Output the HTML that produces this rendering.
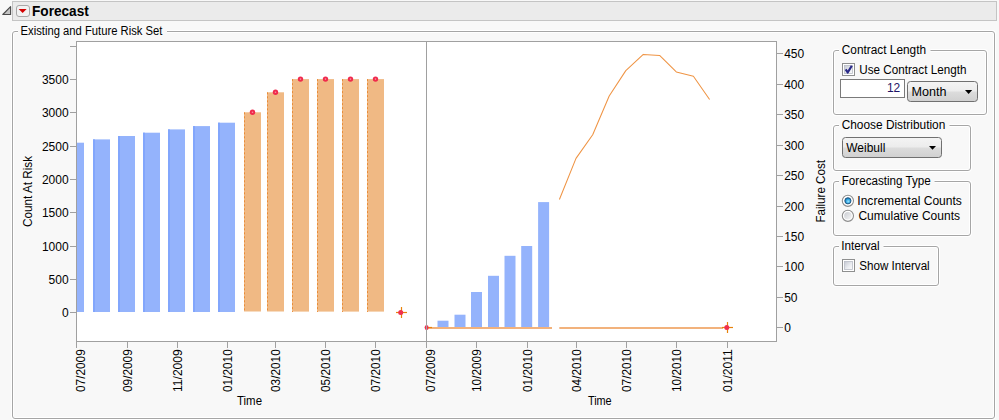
<!DOCTYPE html>
<html><head><meta charset="utf-8">
<style>
html,body{margin:0;padding:0;background:#f8f8f8;width:999px;height:420px;overflow:hidden}
svg{position:absolute;left:0;top:0;display:block}
text{font-family:"Liberation Sans",sans-serif;font-size:12px;fill:#000}
.c{shape-rendering:crispEdges}
</style></head><body>
<svg width="999" height="420" viewBox="0 0 999 420">
<!-- header -->
<rect class="c" x="12.5" y="1.5" width="984" height="19" fill="#ebebeb" stroke="#c4c4c4"/>
<path d="M2.8 14.5 L10.6 6.6 L10.6 14.5 Z" fill="#c4c4c4" stroke="#4a4a4a" stroke-width="1.1" stroke-linejoin="round"/>
<rect x="16.5" y="5.5" width="13" height="11" rx="2.5" fill="#f2f2f2" stroke="#a8a8a8"/>
<path d="M18.6 9 L26.6 9 L22.6 13 Z" fill="#d40000"/>
<text transform="translate(32.0,15.9)" font-weight="bold" style="font-size:14.6px" textLength="56.8" lengthAdjust="spacingAndGlyphs">Forecast</text>

<!-- outer group box -->
<g fill="none" stroke="#ffffff" stroke-width="3"><path d="M18 31.5 L15.0 31.5 Q12.5 31.5 12.5 34.0 L12.5 416.0 Q12.5 418.5 15.0 418.5 L992.0 418.5 Q994.5 418.5 994.5 416.0 L994.5 34.0 Q994.5 31.5 992.0 31.5 L167 31.5"/><path d="M839 50.5 L836.0 50.5 Q833.5 50.5 833.5 53.0 L833.5 112.0 Q833.5 114.5 836.0 114.5 L984.0 114.5 Q986.5 114.5 986.5 112.0 L986.5 53.0 Q986.5 50.5 984.0 50.5 L930.5 50.5"/><path d="M839 125.5 L836.0 125.5 Q833.5 125.5 833.5 128.0 L833.5 168.0 Q833.5 170.5 836.0 170.5 L968.0 170.5 Q970.5 170.5 970.5 168.0 L970.5 128.0 Q970.5 125.5 968.0 125.5 L949.5 125.5"/><path d="M839 181.5 L836.0 181.5 Q833.5 181.5 833.5 184.0 L833.5 233.0 Q833.5 235.5 836.0 235.5 L968.0 235.5 Q970.5 235.5 970.5 233.0 L970.5 184.0 Q970.5 181.5 968.0 181.5 L934.5 181.5"/><path d="M839 246.5 L836.0 246.5 Q833.5 246.5 833.5 249.0 L833.5 283.0 Q833.5 285.5 836.0 285.5 L936.0 285.5 Q938.5 285.5 938.5 283.0 L938.5 249.0 Q938.5 246.5 936.0 246.5 L883.5 246.5"/></g>
<g fill="none" stroke="#a6a6a6"><path d="M18 31.5 L15.0 31.5 Q12.5 31.5 12.5 34.0 L12.5 416.0 Q12.5 418.5 15.0 418.5 L992.0 418.5 Q994.5 418.5 994.5 416.0 L994.5 34.0 Q994.5 31.5 992.0 31.5 L167 31.5"/><path d="M839 50.5 L836.0 50.5 Q833.5 50.5 833.5 53.0 L833.5 112.0 Q833.5 114.5 836.0 114.5 L984.0 114.5 Q986.5 114.5 986.5 112.0 L986.5 53.0 Q986.5 50.5 984.0 50.5 L930.5 50.5"/><path d="M839 125.5 L836.0 125.5 Q833.5 125.5 833.5 128.0 L833.5 168.0 Q833.5 170.5 836.0 170.5 L968.0 170.5 Q970.5 170.5 970.5 168.0 L970.5 128.0 Q970.5 125.5 968.0 125.5 L949.5 125.5"/><path d="M839 181.5 L836.0 181.5 Q833.5 181.5 833.5 184.0 L833.5 233.0 Q833.5 235.5 836.0 235.5 L968.0 235.5 Q970.5 235.5 970.5 233.0 L970.5 184.0 Q970.5 181.5 968.0 181.5 L934.5 181.5"/><path d="M839 246.5 L836.0 246.5 Q833.5 246.5 833.5 249.0 L833.5 283.0 Q833.5 285.5 836.0 285.5 L936.0 285.5 Q938.5 285.5 938.5 283.0 L938.5 249.0 Q938.5 246.5 936.0 246.5 L883.5 246.5"/></g>
<text x="20.6" y="34.9" textLength="141.8" lengthAdjust="spacingAndGlyphs">Existing and Future Risk Set</text>

<!-- plot background -->
<rect x="76" y="41" width="700" height="300" fill="#ffffff"/>

<!-- left bars blue -->
<g fill="#94b3fc">
<rect x="76" y="142.7" width="8" height="169.3"/>
<rect x="93" y="139.4" width="17" height="172.6"/>
<rect x="118" y="136" width="17" height="176"/>
<rect x="143" y="132.7" width="17" height="179.3"/>
<rect x="168" y="129.4" width="17" height="182.6"/>
<rect x="193" y="126.1" width="17" height="185.9"/>
<rect x="218" y="122.7" width="17" height="189.3"/>
</g>
<g fill="#82a6fc">
<rect x="93" y="139.4" width="2" height="172.6"/>
<rect x="118" y="136" width="2" height="176"/>
<rect x="143" y="132.7" width="2" height="179.3"/>
<rect x="168" y="129.4" width="2" height="182.6"/>
<rect x="193" y="126.1" width="2" height="185.9"/>
<rect x="218" y="122.7" width="2" height="189.3"/>
</g>
<!-- left bars orange -->
<g fill="#f0b984">
<rect x="244" y="112.3" width="17" height="199.2"/>
<rect x="267" y="92.3" width="17" height="219.2"/>
<rect x="292" y="79.1" width="17" height="232.5"/>
<rect x="317" y="79.1" width="17" height="232.5"/>
<rect x="342" y="79.1" width="17" height="232.5"/>
<rect x="367" y="79.1" width="17" height="232.5"/>
</g>
<g stroke="#e88c38" stroke-dasharray="2 2">
<line x1="244.5" y1="112.3" x2="244.5" y2="312"/>
<line x1="267.5" y1="92.3" x2="267.5" y2="312"/>
<line x1="292.5" y1="79.1" x2="292.5" y2="312"/>
<line x1="317.5" y1="79.1" x2="317.5" y2="312"/>
<line x1="342.5" y1="79.1" x2="342.5" y2="312"/>
<line x1="367.5" y1="79.1" x2="367.5" y2="312"/>
</g>
<g fill="#f02a4c">
<circle cx="252.5" cy="112.3" r="2.7"/>
<circle cx="275.5" cy="92.3" r="2.7"/>
<circle cx="300.5" cy="79.1" r="2.7"/>
<circle cx="325.5" cy="79.1" r="2.7"/>
<circle cx="350.5" cy="79.1" r="2.7"/>
<circle cx="375.5" cy="79.1" r="2.7"/>
</g>
<g fill="#f590a0">
<circle cx="252.5" cy="112.3" r="0.8"/>
<circle cx="275.5" cy="92.3" r="0.8"/>
<circle cx="300.5" cy="79.1" r="0.8"/>
<circle cx="325.5" cy="79.1" r="0.8"/>
<circle cx="350.5" cy="79.1" r="0.8"/>
<circle cx="375.5" cy="79.1" r="0.8"/>
</g>
<!-- crosshair marker left -->
<g stroke="#e8820c" stroke-width="1.2">
<line x1="396" y1="312.5" x2="407" y2="312.5"/>
<line x1="401.5" y1="307" x2="401.5" y2="318"/>
</g>
<circle cx="400.7" cy="312.5" r="2.5" fill="#f03050"/>

<!-- right bars -->
<g fill="#94b3fc">
<rect x="437.5" y="320.7" width="11" height="6.8"/>
<rect x="454.5" y="314.7" width="11" height="12.8"/>
<rect x="471" y="292" width="11" height="35.5"/>
<rect x="488" y="275.8" width="11" height="51.7"/>
<rect x="504.5" y="255.8" width="11" height="71.7"/>
<rect x="521.2" y="246" width="11" height="81.5"/>
<rect x="538.1" y="202.1" width="11" height="125.4"/>
</g>
<g stroke="#f2b27c" stroke-width="2" fill="none">
<line x1="427" y1="328" x2="552" y2="328"/>
<line x1="559.3" y1="328" x2="723" y2="328"/>
</g>
<polyline fill="none" stroke="#ef9444" stroke-width="1.05" stroke-linejoin="round" points="559.4,199.5 576,158.4 592.7,134.7 609.2,96 625.8,70.6 643.3,54.4 659.6,55.4 676.3,71.9 693.4,76.3 709.6,99.5"/>
<!-- right markers -->
<g stroke="#e8820c" stroke-width="1.2">
<line x1="722" y1="327.5" x2="733" y2="327.5"/>
<line x1="727.5" y1="322" x2="727.5" y2="333"/>
<line x1="427" y1="327.5" x2="432" y2="327.5"/>
</g>
<circle cx="726.8" cy="327.5" r="2.5" fill="#f03050"/>
<ellipse cx="426.6" cy="327.5" rx="2" ry="2.6" fill="#f03050"/>

<!-- frame -->
<g class="c" stroke="#a0a0a0" fill="none">
<rect x="76.5" y="41.5" width="700" height="300"/>
<line x1="426.5" y1="41" x2="426.5" y2="348"/>
</g>
<!-- left y ticks -->
<g class="c" stroke="#a0a0a0">
<line x1="70" y1="46.5" x2="76" y2="46.5"/>
<line x1="70" y1="79.1" x2="76" y2="79.5"/>
<line x1="70" y1="112.5" x2="76" y2="112.5"/>
<line x1="70" y1="146.5" x2="76" y2="146.5"/>
<line x1="70" y1="179.5" x2="76" y2="179.5"/>
<line x1="70" y1="212.5" x2="76" y2="212.5"/>
<line x1="70" y1="246.5" x2="76" y2="246.5"/>
<line x1="70" y1="279.5" x2="76" y2="279.5"/>
<line x1="70" y1="312.5" x2="76" y2="312.5"/>
</g>
<g text-anchor="end">
<text x="68.6" y="83.6">3500</text>
<text x="68.6" y="116.6">3000</text>
<text x="68.6" y="150.6">2500</text>
<text x="68.6" y="183.6">2000</text>
<text x="68.6" y="216.6">1500</text>
<text x="68.6" y="250.6">1000</text>
<text x="68.6" y="283.6">500</text>
<text x="68.6" y="316.6">0</text>
</g>
<text transform="translate(32.4,227) rotate(-90)" style="font-size:13px" textLength="71" lengthAdjust="spacingAndGlyphs">Count At Risk</text>

<!-- right y ticks -->
<g class="c" stroke="#a0a0a0">
<line x1="777" y1="53.5" x2="783" y2="53.5"/>
<line x1="777" y1="84.5" x2="783" y2="84.5"/>
<line x1="777" y1="114.5" x2="783" y2="114.5"/>
<line x1="777" y1="145.5" x2="783" y2="145.5"/>
<line x1="777" y1="175.5" x2="783" y2="175.5"/>
<line x1="777" y1="206.5" x2="783" y2="206.5"/>
<line x1="777" y1="236.5" x2="783" y2="236.5"/>
<line x1="777" y1="266.5" x2="783" y2="266.5"/>
<line x1="777" y1="297.5" x2="783" y2="297.5"/>
<line x1="777" y1="327.5" x2="783" y2="327.5"/>
</g>
<g>
<text x="784.2" y="57.6">450</text>
<text x="784.2" y="88.6">400</text>
<text x="784.2" y="118.6">350</text>
<text x="784.2" y="149.6">300</text>
<text x="784.2" y="179.6">250</text>
<text x="784.2" y="210.6">200</text>
<text x="784.2" y="240.6">150</text>
<text x="784.2" y="270.6">100</text>
<text x="784.2" y="301.6">50</text>
<text x="784.2" y="331.6">0</text>
</g>
<text transform="translate(825.2,222.6) rotate(-90)" style="font-size:13px" textLength="62.5" lengthAdjust="spacingAndGlyphs">Failure Cost</text>

<!-- x ticks -->
<g class="c" stroke="#a0a0a0">
<line x1="76.5" y1="341" x2="76.5" y2="348"/>
<line x1="127.5" y1="341" x2="127.5" y2="348"/>
<line x1="177.5" y1="341" x2="177.5" y2="348"/>
<line x1="227.5" y1="341" x2="227.5" y2="348"/>
<line x1="275.5" y1="341" x2="275.5" y2="348"/>
<line x1="325.5" y1="341" x2="325.5" y2="348"/>
<line x1="375.5" y1="341" x2="375.5" y2="348"/>
<line x1="476.5" y1="341" x2="476.5" y2="348"/>
<line x1="527.5" y1="341" x2="527.5" y2="348"/>
<line x1="576.5" y1="341" x2="576.5" y2="348"/>
<line x1="626.5" y1="341" x2="626.5" y2="348"/>
<line x1="676.5" y1="341" x2="676.5" y2="348"/>
<line x1="727.5" y1="341" x2="727.5" y2="348"/>
</g>
<g>
<text transform="translate(85.30,392) rotate(-90)" textLength="42.8" lengthAdjust="spacingAndGlyphs">07/2009</text>
<text transform="translate(132.15,392) rotate(-90)" textLength="42.8" lengthAdjust="spacingAndGlyphs">09/2009</text>
<text transform="translate(182.15,392) rotate(-90)" textLength="42.8" lengthAdjust="spacingAndGlyphs">11/2009</text>
<text transform="translate(232.15,392) rotate(-90)" textLength="42.8" lengthAdjust="spacingAndGlyphs">01/2010</text>
<text transform="translate(280.15,392) rotate(-90)" textLength="42.8" lengthAdjust="spacingAndGlyphs">03/2010</text>
<text transform="translate(330.15,392) rotate(-90)" textLength="42.8" lengthAdjust="spacingAndGlyphs">05/2010</text>
<text transform="translate(380.15,392) rotate(-90)" textLength="42.8" lengthAdjust="spacingAndGlyphs">07/2010</text>
<text transform="translate(434.80,392) rotate(-90)" textLength="42.8" lengthAdjust="spacingAndGlyphs">07/2009</text>
<text transform="translate(481.15,392) rotate(-90)" textLength="42.8" lengthAdjust="spacingAndGlyphs">10/2009</text>
<text transform="translate(532.15,392) rotate(-90)" textLength="42.8" lengthAdjust="spacingAndGlyphs">01/2010</text>
<text transform="translate(581.15,392) rotate(-90)" textLength="42.8" lengthAdjust="spacingAndGlyphs">04/2010</text>
<text transform="translate(631.15,392) rotate(-90)" textLength="42.8" lengthAdjust="spacingAndGlyphs">07/2010</text>
<text transform="translate(681.15,392) rotate(-90)" textLength="42.8" lengthAdjust="spacingAndGlyphs">10/2010</text>
<text transform="translate(732.15,392) rotate(-90)" textLength="42.8" lengthAdjust="spacingAndGlyphs">01/2011</text>
</g>
<text x="237" y="405" textLength="25" lengthAdjust="spacingAndGlyphs">Time</text>
<text x="587.9" y="405" textLength="23.8" lengthAdjust="spacingAndGlyphs">Time</text>

<!-- right panel group boxes -->
<text x="841.8" y="54" textLength="84.2" lengthAdjust="spacingAndGlyphs">Contract Length</text>
<text x="841.7" y="128.8" textLength="103.6" lengthAdjust="spacingAndGlyphs">Choose Distribution</text>
<text x="841.7" y="185" textLength="89.1" lengthAdjust="spacingAndGlyphs">Forecasting Type</text>
<text x="841.2" y="249.7" textLength="38.5" lengthAdjust="spacingAndGlyphs">Interval</text>

<!-- checkbox use contract -->
<defs>
<linearGradient id="cbg" x1="0" y1="0" x2="1" y2="1"><stop offset="0" stop-color="#c4c8d2"/><stop offset="0.6" stop-color="#eceef2"/><stop offset="1" stop-color="#fafafa"/></linearGradient>
<linearGradient id="btn" x1="0" y1="0" x2="0" y2="1"><stop offset="0" stop-color="#f4f4f4"/><stop offset="0.48" stop-color="#ececec"/><stop offset="0.52" stop-color="#dcdcdc"/><stop offset="1" stop-color="#d0d0d0"/></linearGradient>
<radialGradient id="rsel" cx="0.55" cy="0.6" r="0.6"><stop offset="0" stop-color="#9ae4ff"/><stop offset="0.6" stop-color="#2aa0dc"/><stop offset="1" stop-color="#1670a8"/></radialGradient>
<linearGradient id="runs" x1="0" y1="0" x2="1" y2="1"><stop offset="0" stop-color="#c9ccd2"/><stop offset="1" stop-color="#f6f6f6"/></linearGradient>
</defs>
<rect x="842.5" y="63.5" width="12" height="12" fill="#ffffff" stroke="#8e8f8f"/>
<rect x="844.5" y="65.5" width="8" height="8" fill="url(#cbg)" stroke="#b8bcc6" stroke-width="0.8"/>
<path d="M845.7 69.3 L847.7 72.5 L851.8 65.8" fill="none" stroke="#2a2a88" stroke-width="2.2" stroke-linejoin="round"/>
<text x="859.3" y="73.6" textLength="107.1" lengthAdjust="spacingAndGlyphs">Use Contract Length</text>

<rect x="840.5" y="79.5" width="64" height="18" fill="#ffffff" stroke="#7a7a7a"/>
<text x="900.3" y="92" text-anchor="end" style="fill:#1e1466">12</text>

<rect x="907.5" y="81.5" width="70" height="20" rx="3" fill="url(#btn)" stroke="#707070"/>
<text x="911.5" y="95.9" textLength="35" lengthAdjust="spacingAndGlyphs">Month</text>
<path d="M965 90 L972.2 90 L968.6 93.9 Z" fill="#000"/>

<rect x="842.5" y="137.5" width="99" height="20" rx="3" fill="url(#btn)" stroke="#707070"/>
<text x="846.3" y="151.7" textLength="39" lengthAdjust="spacingAndGlyphs">Weibull</text>
<path d="M929 146 L936 146 L932.5 149.8 Z" fill="#000"/>

<!-- radios -->
<circle cx="847.9" cy="200.8" r="5.6" fill="#ffffff" stroke="#8e8e8e" stroke-width="1.1"/>
<circle cx="847.9" cy="200.8" r="3.1" fill="url(#rsel)" stroke="#1d4e78" stroke-width="0.9"/>
<text x="857.3" y="204.9" textLength="104.6" lengthAdjust="spacingAndGlyphs">Incremental Counts</text>
<circle cx="847.9" cy="215.8" r="5.6" fill="#ffffff" stroke="#8e8e8e" stroke-width="1.1"/><circle cx="847.9" cy="215.8" r="3.8" fill="url(#runs)"/>
<text x="858.4" y="219.7" textLength="101.6" lengthAdjust="spacingAndGlyphs">Cumulative Counts</text>

<rect x="842.5" y="259.5" width="12" height="12" fill="#ffffff" stroke="#8e8f8f"/>
<rect x="844.5" y="261.5" width="8" height="8" fill="url(#cbg)" stroke="#b8bcc6" stroke-width="0.8"/>
<text x="859.2" y="270" textLength="70.5" lengthAdjust="spacingAndGlyphs">Show Interval</text>
</svg>
</body></html>
